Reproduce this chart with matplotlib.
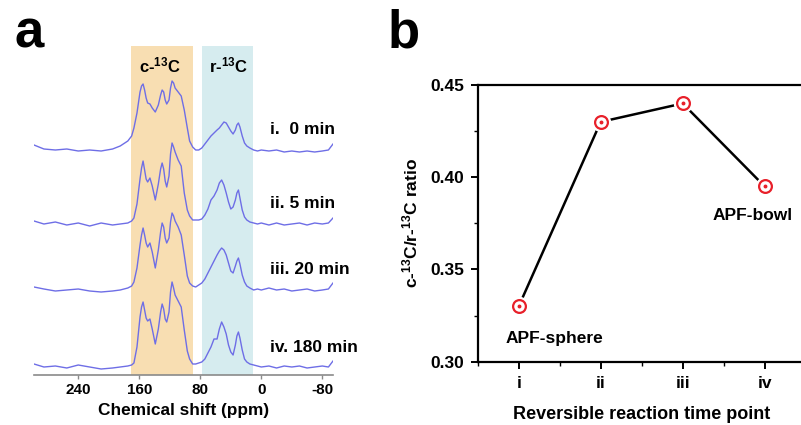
import matplotlib
matplotlib.use("Agg")
import matplotlib.pyplot as plt
from matplotlib.ticker import MultipleLocator

plt.rcParams['font.family'] = ['Liberation Sans', 'DejaVu Sans']
plt.rcParams['font.weight'] = 'bold'
plt.rcParams['axes.unicode_minus'] = False
plt.rcParams['mathtext.fontset'] = 'custom'
plt.rcParams['mathtext.rm'] = 'Liberation Sans:bold'
plt.rcParams['mathtext.bf'] = 'Liberation Sans:bold'
plt.rcParams['mathtext.it'] = 'Liberation Sans:bold'

# ---- panel a data: chemical shift grid (ppm) and intensity of each spectrum ----
ppm = [298, 285, 270, 255, 240, 225, 210, 195, 185,
       175, 170, 167, 163, 159, 157, 155, 153, 151, 149, 146, 143, 139, 135, 132, 130,
       128, 126, 124, 121, 119, 117, 115, 113, 109, 105, 101, 97, 94, 90, 86, 82,
       78, 74, 70, 66, 62, 58, 55, 52, 49, 46, 43,
       40, 37, 34, 32, 30, 28, 25, 22, 19, 15, 10,
       5, 0, -10, -20, -30, -40, -50, -60, -70, -80, -88, -94]

spec_0min = [5, 1, 0, 1, -1, 0, -1, 1, 4,
             9, 14, 22, 37, 58, 64, 66, 60, 52, 47, 46, 42, 38, 45, 55, 60,
             58, 50, 46, 50, 62, 69, 67, 62, 58, 54, 40, 22, 9, 3, 0, 0,
             2, 6, 10, 14, 17, 20, 22, 25, 28, 27, 23,
             19, 16, 20, 25, 27, 23, 14, 7, 4, 2, 0,
             -1, 0, -1, 0, -2, -1, -2, -1, -2, -1, 0, 6]
spec_5min = [3, 0, 2, -1, 1, -2, 1, -1, 0,
             1, 3, 6, 20, 45, 56, 63, 54, 45, 42, 46, 38, 24, 40, 55, 61,
             55, 43, 37, 48, 70, 81, 77, 72, 64, 58, 31, 14, 8, 4, 4, 4,
             5, 9, 15, 24, 28, 34, 41, 44, 39, 31, 22,
             15, 17, 24, 31, 34, 26, 14, 7, 4, 2, 1,
             0, 1, -1, 1, -1, 0, 1, -1, 1, 0, 1, 6]
spec_20min = [3, 1, -1, 0, 1, -1, -2, -1, 0,
              2, 4, 8, 22, 45, 55, 62, 55, 47, 43, 47, 38, 22, 40, 58, 67,
              63, 52, 47, 52, 68, 77, 74, 69, 63, 55, 35, 14, 7, 4, 3, 5,
              7, 11, 17, 23, 29, 35, 39, 42, 40, 35, 27,
              19, 17, 24, 29, 32, 26, 15, 8, 4, 2, 0,
              1, 0, 2, 0, 1, -1, 0, 1, -1, 0, 1, 7]
spec_180min = [3, 0, 1, -1, 2, 0, -2, -1, 0,
               1, 2, 4, 20, 50, 60, 65, 57, 49, 46, 48, 38, 23, 38, 55, 63,
               58, 48, 45, 55, 75, 85, 79, 72, 66, 60, 37, 16, 8, 3, 3, 4,
               5, 8, 14, 20, 28, 28, 38, 45, 40, 33, 22,
               15, 12, 22, 31, 35, 29, 17, 8, 5, 3, 2,
               1, 0, 1, -1, 1, 0, 1, -1, 0, 1, 0, 6]
spectra = [spec_0min, spec_5min, spec_20min, spec_180min]
spec_labels = ['i.  0 min', 'ii. 5 min', 'iii. 20 min', 'iv. 180 min']
offsets = [225, 151, 85, 8]

# ---- panel b data ----
time_points = ['i', 'ii', 'iii', 'iv']
ratio = [0.330, 0.430, 0.440, 0.395]

fig = plt.figure(figsize=(8.01, 4.25), dpi=100)

# ================= panel a =================
ax1 = fig.add_axes([34/801, 50/425, 299/801, 329/425])
ax1.axvspan(170.5, 89, color='#f8deb2', lw=0, zorder=0)
ax1.axvspan(77.5, 10.5, color='#d6ecef', lw=0, zorder=0)
for s, off in zip(spectra, offsets):
    ax1.plot(ppm, [v + off for v in s], color='#6e6ee6', lw=1.0, zorder=2)
for lab, off in zip(spec_labels, offsets):
    ax1.text(-11.5, off + 20, lab, fontsize=12.5, fontweight='bold',
             ha='left', va='center', clip_on=False)
ax1.text(132.5, 310, r'c-$^{13}$C', fontsize=12, ha='center', va='center')
ax1.text(43.3, 310, r'r-$^{13}$C', fontsize=12, ha='center', va='center')

ax1.set_xlim(298, -94)
ax1.set_ylim(0, 329)
ax1.set_xticks([240, 160, 80, 0, -80])
ax1.set_yticks([])
for sp in ['left', 'right', 'top']:
    ax1.spines[sp].set_visible(False)
ax1.spines['bottom'].set_color('#8a8a8a')
ax1.spines['bottom'].set_linewidth(1.2)
ax1.tick_params(axis='x', direction='out', length=3, width=1, color='#8a8a8a',
                labelsize=11, pad=3)
ax1.set_xlabel('Chemical shift (ppm)', fontsize=12.4, fontweight='bold', labelpad=4)
fig.text(15/801, 1 - 34/425, 'a', fontsize=38, fontweight='bold', va='center')

# ================= panel b =================
ax2 = fig.add_axes([477.7/801, 63.3/425, 328/801, 276.7/425])
x = list(range(1, len(time_points) + 1))
ax2.plot(x, ratio, color='black', lw=1.8, zorder=2)
ax2.plot(x, ratio, ls='none', marker='o', ms=13, mfc='white', mec='white', zorder=3)
ax2.plot(x, ratio, ls='none', marker='o', ms=9.2, mfc='white', mec='#e8202a',
         mew=1.6, zorder=4)
ax2.plot(x, ratio, ls='none', marker='o', ms=1.8, color='#e8202a', zorder=5)

ax2.set_xlim(0.5, 4.5)
ax2.set_ylim(0.30, 0.45)
ax2.set_xticks(x)
ax2.set_xticklabels(time_points)
ax2.set_yticks([0.30, 0.35, 0.40, 0.45])
ax2.set_yticklabels(['0.30', '0.35', '0.40', '0.45'])
ax2.xaxis.set_minor_locator(MultipleLocator(0.5))
ax2.yaxis.set_minor_locator(MultipleLocator(0.025))
for sp in ax2.spines.values():
    sp.set_linewidth(1.6)
ax2.tick_params(which='major', direction='out', length=5, width=1.4, labelsize=12.5, pad=5)
ax2.tick_params(which='minor', direction='out', length=3, width=1.0)
ax2.tick_params(top=False, right=False, which='both')
ax2.set_xlabel('Reversible reaction time point', fontsize=13, fontweight='bold',
               labelpad=11)
ax2.set_ylabel(r'c-$^{13}$C/r-$^{13}$C ratio', fontsize=12.5, fontweight='bold',
               labelpad=7)
ax2.text(1.43, 0.3125, 'APF-sphere', fontsize=12.5, fontweight='bold',
         ha='center', va='center')
ax2.text(3.85, 0.3795, 'APF-bowl', fontsize=12.5, fontweight='bold',
         ha='center', va='center', clip_on=False)
fig.text(388/801, 1 - 34/425, 'b', fontsize=38, fontweight='bold', va='center')

fig.savefig('out.png', dpi=100)
